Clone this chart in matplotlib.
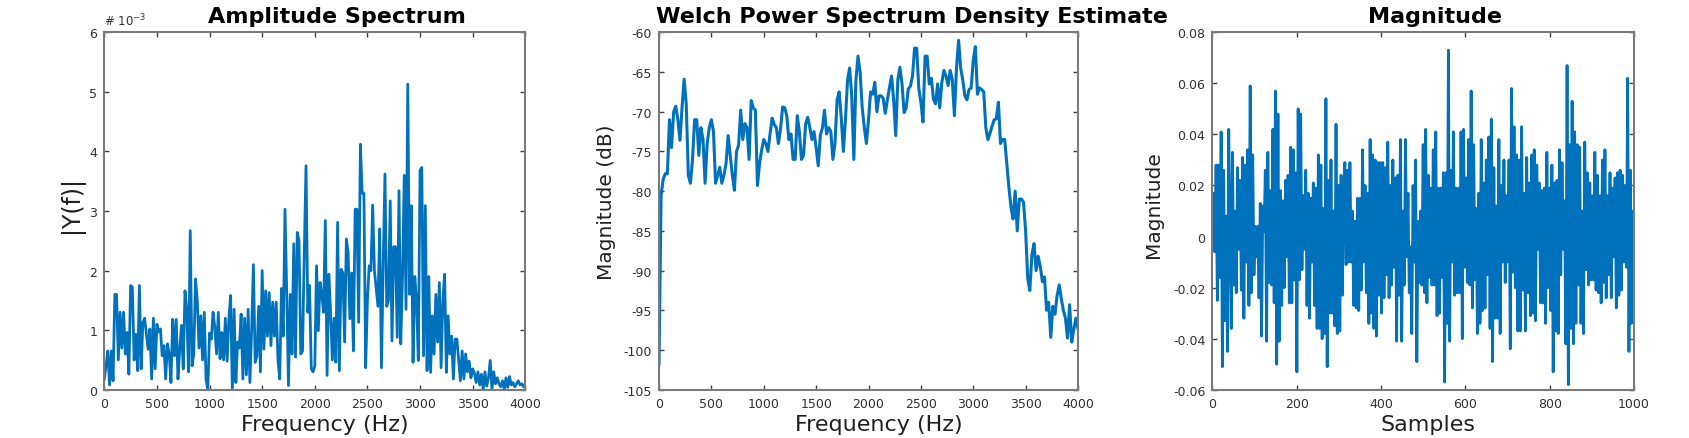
import numpy as np
import matplotlib
matplotlib.use("Agg")
import matplotlib.pyplot as plt

# ---- data ----
# single-sided amplitude spectrum, |Y(f)| in units of 1e-3, bins 0..4000 Hz
amp_e3 = [
    0.18, 0.4, 0.65, 0.08, 0.65, 0.15, 1.6, 1.6, 0.5, 1.3,
    0.7, 1.3, 0.6, 0.96, 0.26, 1.75, 1.72, 0.5, 0.93, 0.32,
    1.75, 0.35, 1.13, 1.2, 0.93, 0.68, 1.02, 0.18, 1.2, 0.35,
    1.1, 0.97, 1.02, 0.57, 0.74, 0.18, 0.77, 0.6, 0.12, 1.18,
    0.57, 1.18, 0.18, 0.68, 1.08, 0.35, 1.66, 1.35, 0.3, 2.67,
    0.4, 0.6, 1.86, 1.5, 0.7, 1.24, 0.5, 1.3, 0.18, 0.0,
    0.95, 0.85, 1.3, 1.05, 0.6, 1.3, 0.52, 0.96, 0.5, 1.2,
    0.48, 1.18, 1.58, 0.0, 1.35, 0.12, 0.8, 0.7, 1.27, 0.18,
    1.2, 0.25, 1.35, 0.12, 1.0, 2.1, 0.46, 0.57, 1.4, 0.3,
    2.0, 0.68, 1.66, 0.9, 1.63, 0.74, 1.47, 0.9, 1.47, 0.5,
    0.18, 1.7, 0.9, 3.03, 1.63, 0.07, 1.6, 0.6, 2.45, 0.55,
    2.64, 2.5, 0.6, 0.65, 2.3, 3.76, 1.3, 1.75, 0.35, 0.3,
    0.4, 2.08, 0.99, 1.8, 1.6, 1.3, 2.84, 0.24, 1.94, 1.3,
    0.5, 1.2, 0.46, 2.81, 0.32, 2.02, 1.96, 0.8, 2.53, 2.3,
    1.19, 1.96, 0.65, 3.03, 3.03, 1.13, 4.12, 3.3, 3.3, 0.37,
    1.5, 2.08, 2.0, 3.1, 2.0, 1.7, 1.4, 2.7, 0.37, 2.1,
    3.62, 1.4, 1.5, 3.17, 0.82, 2.4, 2.4, 0.88, 3.34, 0.77,
    1.9, 3.6, 1.35, 5.13, 1.6, 3.09, 0.46, 1.9, 1.5, 0.49,
    3.68, 3.73, 0.57, 3.09, 0.32, 1.9, 0.29, 1.24, 0.6, 1.6,
    0.8, 1.8, 0.37, 1.5, 1.94, 0.29, 1.24, 0.6, 0.9, 0.18,
    0.85, 0.85, 0.5, 0.15, 0.65, 0.18, 0.6, 0.3, 0.48, 0.2,
    0.35, 0.28, 0.12, 0.3, 0.08, 0.26, 0.0, 0.3, 0.06, 0.2,
    0.49, 0.0, 0.3, 0.1, 0.2, 0.1, 0.05, 0.15, 0.0, 0.2,
    0.04, 0.22, 0.08, 0.12, 0.05, 0.1, 0.15, 0.08, 0.1, 0.05, 0.1,
]

# Welch PSD estimate in dB, bins 0..4000 Hz
welch_db = [
    -101.8, -80.5, -78.5, -77.8, -77.8, -71.0, -74.5, -70.0, -69.3, -71.0,
    -73.6, -69.5, -65.9, -69.0, -78.0, -79.0, -76.0, -71.0, -71.0, -75.5,
    -72.0, -73.4, -79.0, -74.0, -72.0, -71.0, -72.5, -79.0, -78.0, -77.0,
    -79.0, -78.0, -76.5, -73.0, -75.5, -78.0, -79.9, -75.0, -74.2, -69.8,
    -73.5, -71.5, -72.0, -76.0, -68.6, -69.5, -69.8, -79.3, -76.5, -74.8,
    -73.5, -74.0, -75.0, -72.8, -70.8, -71.6, -72.0, -74.0, -72.2, -69.4,
    -69.5, -70.5, -73.5, -72.8, -76.0, -76.0, -70.5, -72.5, -76.0, -75.5,
    -71.5, -70.7, -72.0, -73.5, -72.5, -74.5, -76.8, -73.0, -72.0, -69.8,
    -72.8, -72.0, -72.5, -76.0, -74.0, -68.5, -67.5, -70.8, -75.0, -71.0,
    -66.0, -64.5, -68.0, -76.0, -66.0, -63.0, -65.0, -69.5, -72.0, -74.0,
    -71.0, -67.5, -67.8, -66.3, -70.0, -68.0, -68.0, -68.3, -70.2, -68.5,
    -67.0, -65.5, -68.5, -73.0, -66.0, -64.4, -66.5, -70.1, -69.5, -67.1,
    -66.8, -65.5, -62.0, -62.0, -67.0, -68.8, -71.3, -63.0, -63.0, -66.5,
    -65.8, -68.4, -69.0, -66.5, -69.5, -66.3, -64.8, -65.5, -66.7, -64.8,
    -66.0, -70.5, -64.5, -61.0, -64.5, -66.0, -68.0, -68.5, -67.2, -67.0,
    -63.5, -61.8, -67.8, -67.0, -67.2, -67.5, -72.0, -73.5, -72.7, -71.8,
    -71.0, -70.9, -68.8, -74.0, -73.5, -73.5, -76.5, -79.5, -82.0, -83.5,
    -80.0, -85.0, -81.0, -81.0, -81.4, -85.0, -91.0, -92.5, -88.0, -86.6,
    -90.0, -88.2, -89.5, -91.4, -90.8, -95.0, -94.0, -98.4, -94.5, -95.5,
    -93.2, -91.8, -93.5, -95.0, -96.0, -98.5, -94.3, -99.0, -97.4, -96.0,
    -97.3,
]

# time-domain signal, every ~3rd sample, units of 1e-3
sig_e3 = [
    0, 17, -6, 28, -25, 28, -16, 41, -51, 26, -33, 8, -45, 42, 5, -36, 33, -19, 10, -22,
    27, -5, 22, -21, 31, -32, 28, -10, 34, -27, 59, -22, 32, -15, 4, -8, 4,
    -24, 13, -39, 12, 2, 26, -41, 33, -18, 18, -19, 42, -26, 57, -50, 48, -41, 18, -27, 14,
    -20, 22, -8, 24, -26, 35, -26, 34, -17, 25, -53, 50,
    -17, 48, -13, 16, -5, 26, -27, 17, -32, 15, -10, 21, -27, 19, -36, 32, -36, 28, -40, 11,
    -38, 54, -51, 22, -30, 30, -30, 10, -35, 44, -38, 20, -37,
    24, -23, 12, 29, -11, 26, -10, 29, -10, 10, -27, 6, -28, 15, -29, 15, -21, 34, -10, 20,
    -22, 17, -34, 38, -30, 32, -36, 30, -39, 29, -23, 29, -30,
    29, -24, 27, -15, 37, -24, 20, -19, 30, -12, 23, -41, 24, -23, 38, -41, 10, -19, 38, -8,
    17, -22, -4, -38, 20, -10, 30, -49, 6, -18, 10, -19, 36, -22, 42, -26,
    24, -16, 19, -19, 34, -19, 41, -31, 19, -30, 19, -16, 25, -57, 25, -34, 73, -41, 26, -10,
    41, -23, 19, -22, 19, -22, 41, -40, 42, -12, 23, -18,
    38, -19, 57, -28, 36, -17, 11, -38, 17, -34, 38, -29, 21, -28, 30, -15, 39, -36, 46, -49,
    27, -32, 12, -32, 38, -38, 20, -10, 30, -18, 16, -10, 30, -44,
    58, -14, 43, -20, 32, -37, 30, -37, 43, -21, 17, -37, 31, -22, 21, -31, 32, -30, 34, -33,
    28, -5, 21, -26, 18, -26, 19, -34, 33, -20, 19,
    -29, 28, -53, 21, -37, 22, -38, 34, -15, 29, -5, 14, -42, 67, -58, 36, -36, 53, -42, 41,
    -34, 36, -19, 35, -34, 10, -38, 37, -13, 25, -19, 21,
    -17, 16, -17, 33, -21, 24, -22, 16, -26, 30, -18, 34, -24, 16, -15, 25, -24, 19, -8, 23,
    -28, 25, -23, 26, -21, 24, -10, 20, -12, 62, -45, 26, -34, 10, -17,
]

freq_ticks = [0, 500, 1000, 1500, 2000, 2500, 3000, 3500, 4000]
amp_ticks = [0, 1, 2, 3, 4, 5, 6]
db_ticks = [-105, -100, -95, -90, -85, -80, -75, -70, -65, -60]
sample_ticks = [0, 200, 400, 600, 800, 1000]
sig_ticks = [-0.06, -0.04, -0.02, 0, 0.02, 0.04, 0.06, 0.08]
sig_labels = ["-0.06", "-0.04", "-0.02", "0", "0.02", "0.04", "0.06", "0.08"]

BLUE = "#0072BD"
plt.rcParams["axes.unicode_minus"] = False
plt.rcParams["font.family"] = "DejaVu Sans"

fig = plt.figure(figsize=(16.89, 4.39), dpi=100)
bot, h = 0.110, 0.8141
ax1 = fig.add_axes([0.06175, bot, 0.24926, h])
ax2 = fig.add_axes([0.39017, bot, 0.24808, h])
ax3 = fig.add_axes([0.71776, bot, 0.24967, h])


def style(ax):
    for sp in ax.spines.values():
        sp.set_color("#7a7a7a")
        sp.set_linewidth(1.5)
    ax.tick_params(direction="in", length=3.5, width=1.0, color="#404040",
                   top=True, right=True, labelsize=9, labelcolor="#303030", pad=5)


def title(ax, text, xc):
    ax.text(xc, 1.0 + 10 / 357, text, transform=ax.transAxes, ha="center",
            va="baseline", fontsize=16, fontweight="bold", color="black")


# panel 1: amplitude spectrum
f1 = np.linspace(0, 4000, len(amp_e3))
ax1.plot(f1, np.array(amp_e3), color=BLUE, lw=2.0)
ax1.set_xlim(0, 4000)
ax1.set_ylim(0, 6)
ax1.set_xticks(freq_ticks)
ax1.set_yticks(amp_ticks)
ax1.set_xticklabels([str(t) for t in freq_ticks])
ax1.set_yticklabels([str(t) for t in amp_ticks])
style(ax1)
ax1.text(0.0, 1.012, "# 10$^{-3}$", transform=ax1.transAxes, ha="left", va="bottom",
         fontsize=8.5, color="#303030")
ax1.set_xlabel("Frequency (Hz)", fontsize=16, color="#202020")
ax1.set_ylabel("|Y(f)|", fontsize=17, color="#202020")
ax1.xaxis.set_label_coords(0.524, -0.068)
ax1.yaxis.set_label_coords(-0.048, 0.52)
title(ax1, "Amplitude Spectrum", 0.552)

# panel 2: Welch PSD
f2 = np.linspace(0, 4000, len(welch_db))
ax2.plot(f2, welch_db, color=BLUE, lw=2.2)
ax2.set_xlim(0, 4000)
ax2.set_ylim(-105, -60)
ax2.set_xticks(freq_ticks)
ax2.set_yticks(db_ticks)
ax2.set_xticklabels([str(t) for t in freq_ticks])
ax2.set_yticklabels([str(t) for t in db_ticks])
style(ax2)
ax2.set_xlabel("Frequency (Hz)", fontsize=16, color="#202020")
ax2.set_ylabel("Magnitude (dB)", fontsize=14.5, color="#202020")
ax2.xaxis.set_label_coords(0.525, -0.068)
ax2.yaxis.set_label_coords(-0.102, 0.528)
title(ax2, "Welch Power Spectrum Density Estimate", 0.603)

# panel 3: time signal
n3 = np.linspace(0, 1000, len(sig_e3))
ax3.plot(n3, np.array(sig_e3) * 1e-3, color=BLUE, lw=2.0)
ax3.set_xlim(0, 1000)
ax3.set_ylim(-0.06, 0.08)
ax3.set_xticks(sample_ticks)
ax3.set_yticks(sig_ticks)
ax3.set_xticklabels([str(t) for t in sample_ticks])
ax3.set_yticklabels(sig_labels)
style(ax3)
ax3.set_xlabel("Samples", fontsize=16, color="#202020")
ax3.set_ylabel("Magnitude", fontsize=14.5, color="#202020")
ax3.xaxis.set_label_coords(0.512, -0.068)
ax3.yaxis.set_label_coords(-0.117, 0.52)
title(ax3, "Magnitude", 0.527)

fig.savefig("out.png", dpi=100)
